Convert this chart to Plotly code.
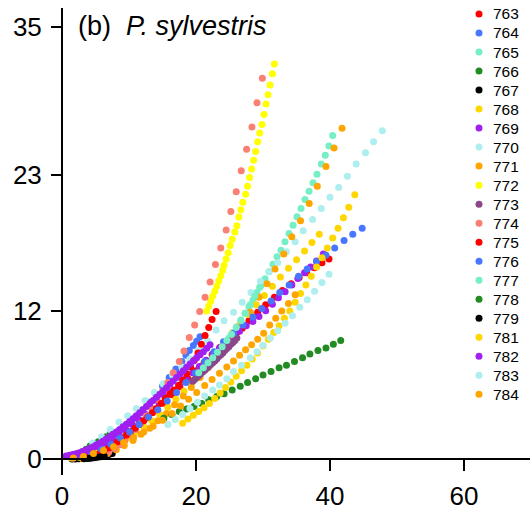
import plotly.graph_objects as go

series_names = ["763", "764", "765", "766", "767", "768", "769", "770", "771", "772", "773",
                "774", "775", "776", "777", "778", "779", "781", "782", "783", "784"]
colors = ["#FF0000", "#4876FF", "#76EEC6", "#228B22", "#000000", "#FFD700", "#A020F0",
          "#AEEEEE", "#FFA500", "#FFFF00", "#8B4789", "#FA8072", "#FF0000", "#4876FF",
          "#76EEC6", "#228B22", "#000000", "#FFD700", "#A020F0", "#AEEEEE", "#FFA500"]

x_ticks = [0, 20, 40, 60]
y_ticks = [0, 12, 23, 35]

x763 = [2.0, 3.2, 4.4, 5.6, 6.8, 8.0, 9.2, 10.4, 11.6, 12.8, 14.0, 15.2, 16.4, 17.6, 18.8, 20.0, 21.2,
        22.4, 23.6, 24.8, 26.0, 26.9, 27.9, 29.2, 30.4, 31.7, 32.9, 34.2, 35.4, 36.5, 37.7, 38.8, 39.85]
y763 = [0.1, 0.2, 0.35, 0.6, 0.9, 1.3, 1.75, 2.25, 2.8, 3.35, 3.95, 4.55, 5.2, 5.85, 6.5, 7.15, 7.8,
        8.45, 9.05, 9.65, 10.2, 10.6, 11.2, 11.9, 12.5, 13.1, 13.65, 14.2, 14.7, 15.1, 15.5, 15.9, 16.2]

x764 = [1.0, 2.0, 3.0, 4.0, 5.0, 6.0, 7.0, 8.0, 9.0, 10.0, 11.0, 12.0, 13.0, 14.0, 15.0, 16.0, 17.0,
        17.9, 18.5, 19.0, 19.6, 20.1, 20.6]
y764 = [0.2, 0.3, 0.45, 0.65, 0.9, 1.2, 1.55, 1.95, 2.4, 2.9, 3.45, 4.0, 4.6, 5.25, 5.9, 6.6, 7.3,
        7.9, 8.4, 8.8, 9.2, 9.55, 9.9]

x765 = [21.9, 22.5, 23.1, 23.7, 24.3, 24.9, 25.5, 26.07, 26.7, 27.31, 27.9, 28.5, 29.1, 29.7, 30.3,
        30.9, 31.49, 32.09, 32.69, 33.28, 33.88, 34.48, 35.07, 35.67, 36.27, 36.87, 37.46, 38.06,
        38.7, 39.3, 39.85, 40.4]
y765 = [7.7, 8.1, 8.5, 8.9, 9.35, 9.8, 10.25, 10.72, 11.26, 11.8, 12.34, 12.88, 13.5, 14.04, 14.6,
        15.17, 15.78, 16.38, 16.91, 17.6, 18.26, 18.94, 19.62, 20.29, 21.02, 21.69, 22.37, 23.07,
        23.9, 24.6, 25.35, 26.2]

x766 = [1.2, 1.8, 2.4, 3.0, 3.6, 4.2, 4.8, 5.4, 6.0, 6.6, 7.2]
y766 = [0.25, 0.35, 0.45, 0.6, 0.8, 1.05, 1.2, 1.4, 1.6, 1.8, 2.05]

x767 = [1.5, 2.0, 2.5, 3.0, 3.5, 4.0, 4.5, 5.0, 5.5, 6.0, 6.5, 7.0, 7.5]
y767 = [0.0, 0.01, 0.02, 0.04, 0.06, 0.09, 0.12, 0.16, 0.2, 0.25, 0.3, 0.37, 0.45]

x768 = [1.4, 2.6, 3.8, 5.0, 6.2, 7.4, 8.6, 9.8, 11.0, 12.2, 13.4, 14.6, 15.8, 17.0, 18.2, 19.4, 20.6,
        21.8, 23.0, 24.2, 25.4, 26.6, 27.8, 29.0, 30.2, 31.4, 32.6, 33.8, 35.0, 36.2, 37.3, 38.4]
y768 = [0.08, 0.15, 0.3, 0.5, 0.75, 1.0, 1.35, 1.75, 2.2, 2.65, 3.1, 3.6, 4.2, 4.85, 5.5, 6.2, 7.0,
        7.8, 8.6, 9.4, 10.2, 10.95, 11.7, 12.5, 13.25, 14.0, 14.75, 15.45, 16.15, 16.85, 17.55, 18.2]

x769 = [1.5, 2.5, 3.5, 4.5, 5.5, 6.5, 7.5, 8.5, 9.5, 10.5, 11.5, 12.5, 13.5, 14.5, 15.5, 16.5,
        17.5, 18.5, 19.5, 20.5, 21.5, 22.5, 23.5, 24.5, 25.5, 26.5, 27.5, 28.5, 29.4, 30.4, 31.4,
        32.3, 33.3, 34.3, 35.2, 36.2, 37.1, 38.0, 39.0]
y769 = [0.22, 0.35, 0.5, 0.75, 1.0, 1.3, 1.65, 2.0, 2.4, 2.8, 3.2, 3.6, 4.05, 4.5, 5.0, 5.5,
        6.0, 6.5, 7.0, 7.5, 8.0, 8.5, 9.0, 9.45, 9.9, 10.35, 10.8, 11.15, 11.54, 12.02, 12.53,
        13.07, 13.56, 14.1, 14.63, 15.09, 15.55, 16.05, 16.6]

x770 = [4.6, 5.9, 7.2, 8.5, 9.8, 11.1, 12.4, 13.8, 15.1, 16.5, 17.9, 19.1, 20.3, 21.7, 23.0, 24.2,
        25.6, 26.9, 28.2, 29.6, 30.9, 32.2, 33.5, 34.8, 36.0, 37.4, 38.7, 40.0, 41.3, 42.6, 43.9,
        45.3, 46.5, 47.8]
y770 = [1.3, 1.8, 2.4, 3.0, 3.5, 4.1, 4.75, 5.4, 6.1, 6.8, 7.45, 8.1, 8.8, 9.6, 10.45, 11.2,
        11.9, 12.7, 13.5, 14.4, 15.2, 15.9, 16.8, 17.6, 18.5, 19.4, 20.3, 21.2, 22.0, 22.9, 23.9,
        24.8, 25.7, 26.6]

x771 = [3.1, 4.3, 5.6, 6.8, 8.1, 9.3, 10.6, 11.8, 13.1, 14.3, 15.6, 16.8, 18.1, 19.3, 20.6, 21.8,
        23.1, 24.3, 25.6, 26.8, 28.1, 29.4, 30.6, 31.8, 33.1, 34.3, 35.6, 36.9, 38.1, 39.4, 40.6, 41.8]
y771 = [0.03, 0.1, 0.25, 0.45, 0.75, 1.1, 1.5, 2.0, 2.5, 3.1, 3.7, 4.4, 5.1, 5.8, 6.6, 7.4,
        8.2, 9.1, 10.0, 10.9, 11.9, 13.1, 14.2, 15.4, 16.6, 18.0, 19.3, 20.7, 22.1, 23.7, 25.2, 26.8]

x772 = [21.6, 21.9, 22.2, 22.5, 22.8, 23.1, 23.4, 23.7, 24.0, 24.2, 24.5, 24.8, 25.1, 25.4, 25.8,
        26.1, 26.4, 26.7, 27.0, 27.4, 27.7, 28.0, 28.3, 28.6, 28.9, 29.2, 29.5, 29.85, 30.15, 30.45,
        30.75, 31.05, 31.4, 31.7]
y772 = [12.0, 12.4, 12.8, 13.2, 13.6, 14.0, 14.45, 14.85, 15.3, 15.7, 16.2, 16.7, 17.3, 17.8, 18.4,
        18.9, 19.6, 20.2, 20.8, 21.45, 22.1, 22.8, 23.5, 24.2, 24.9, 25.7, 26.4, 27.1, 27.9, 28.75,
        29.5, 30.3, 31.2, 32.0]

x773 = [19.5, 19.8, 20.1, 20.4, 20.7, 21.0, 21.3, 21.6, 21.9, 22.2, 22.5, 22.8, 23.1, 23.4, 23.7,
        24.0, 24.3, 24.6, 24.9, 25.2, 25.5, 25.8, 26.1]
y773 = [6.3, 6.45, 6.6, 6.75, 6.9, 7.05, 7.2, 7.35, 7.5, 7.65, 7.8, 7.95, 8.1, 8.3, 8.45,
        8.6, 8.8, 8.95, 9.1, 9.3, 9.45, 9.6, 9.8]

x774 = [4.6, 5.4, 6.2, 7.0, 7.8, 8.6, 9.4, 10.2, 11.0, 11.8, 12.6, 13.4, 14.2, 15.0, 15.8, 16.6,
        17.5, 18.2, 19.0, 19.8, 20.55, 21.35, 22.1, 22.9, 23.7, 24.5, 25.2, 26.0, 26.75, 27.55,
        28.35, 29.1, 29.9]
y774 = [0.12, 0.25, 0.4, 0.6, 0.85, 1.15, 1.5, 1.9, 2.4, 2.9, 3.5, 4.1, 4.8, 5.5, 6.2, 7.0,
        7.9, 8.75, 9.85, 10.85, 11.95, 13.1, 14.35, 15.75, 17.1, 18.55, 20.05, 21.65, 23.35, 25.1,
        26.9, 28.85, 30.85]

x775 = [3.7, 4.4, 5.0, 5.7, 6.3, 7.0, 7.6, 8.3, 8.9, 9.6, 10.2, 10.9, 11.5, 12.2, 12.8, 13.5,
        14.1, 14.8, 15.4, 16.1, 16.7, 17.4, 18.0, 18.6, 19.2, 19.75, 20.3, 20.8, 21.35, 21.9, 22.4, 23.0]
y775 = [0.1, 0.2, 0.35, 0.5, 0.7, 0.9, 1.15, 1.4, 1.65, 1.95, 2.2, 2.5, 2.8, 3.1, 3.4, 3.75,
        4.1, 4.5, 4.9, 5.3, 5.6, 5.95, 6.4, 6.9, 7.45, 8.0, 8.6, 9.3, 10.0, 10.65, 11.3, 11.96]

x776 = [1.7, 3.1, 4.5, 5.9, 7.3, 8.7, 10.1, 11.5, 12.9, 14.3, 15.7, 17.1, 18.5, 19.9, 21.3, 22.7,
        24.1, 25.6, 27.0, 28.5, 29.8, 31.2, 32.5, 33.9, 35.3, 36.6, 38.0, 39.4, 40.7, 42.1, 43.4, 44.8]
y776 = [0.08, 0.2, 0.45, 0.8, 1.2, 1.7, 2.2, 2.8, 3.4, 4.0, 4.7, 5.4, 6.2, 7.0, 7.9, 8.7,
        9.5, 10.2, 10.85, 11.5, 12.2, 12.8, 13.5, 14.1, 14.8, 15.4, 16.0, 16.5, 17.1, 17.7, 18.2, 18.7]

x777 = [20.4, 21.1, 21.8, 22.5, 23.2, 23.9, 24.6, 25.3, 26.0, 26.7, 27.4, 28.1, 28.8, 29.5]
y777 = [7.0, 7.4, 7.8, 8.2, 8.65, 9.1, 9.6, 10.1, 10.65, 11.2, 11.8, 12.5, 13.2, 13.9]

x778 = [15.2, 16.4, 17.5, 18.6, 19.7, 20.85, 21.9, 23.1, 24.2, 25.4, 26.6, 27.7, 28.9, 30.0, 31.2,
        32.4, 33.5, 34.7, 35.9, 37.0, 38.2, 39.4, 40.5, 41.6]
y778 = [3.3, 3.6, 3.85, 4.05, 4.25, 4.5, 4.8, 5.07, 5.3, 5.6, 5.9, 6.2, 6.5, 6.8, 7.1,
        7.4, 7.6, 7.9, 8.2, 8.5, 8.8, 9.0, 9.3, 9.6]

x779 = [3.3, 3.8, 4.3, 4.8, 5.3, 5.8, 6.3]
y779 = [0.02, 0.04, 0.07, 0.1, 0.14, 0.18, 0.23]

x781 = [18.0, 18.8, 19.6, 20.4, 21.2, 22.0, 22.8, 23.6, 24.4, 25.2, 26.0, 26.8, 27.6, 28.4, 29.2,
        30.0, 30.8, 31.6, 32.4, 33.2, 34.0, 34.8, 35.6, 36.4, 37.2, 38.0, 38.8, 39.6, 40.4, 41.2,
        42.0, 42.8, 43.7]
y781 = [2.9, 3.25, 3.55, 3.85, 4.15, 4.5, 4.9, 5.35, 5.8, 6.25, 6.7, 7.15, 7.6, 8.1, 8.6,
        9.15, 9.7, 10.25, 10.8, 11.4, 12.0, 12.7, 13.4, 14.1, 14.8, 15.55, 16.3, 17.1, 17.9, 18.7,
        19.55, 20.4, 21.4]

x782 = [0.6, 1.1, 1.6, 2.1, 2.6, 3.1, 3.6, 4.1, 4.6, 5.1, 5.6, 6.1, 6.6, 7.1, 7.6, 8.1, 8.6, 9.1,
        9.6, 10.1, 10.6, 11.1, 11.6, 12.1, 12.6, 13.1, 13.6, 14.1, 14.6, 15.1, 15.6, 16.1, 16.6,
        17.1, 17.6, 18.1, 18.6, 19.1, 19.6, 20.1, 20.6, 21.1, 21.6, 22.1]
y782 = [0.25, 0.3, 0.36, 0.43, 0.52, 0.62, 0.73, 0.85, 0.98, 1.13, 1.28, 1.45, 1.62, 1.8, 2.0,
        2.2, 2.4, 2.62, 2.83, 3.05, 3.27, 3.5, 3.75, 4.0, 4.25, 4.5, 4.75, 5.0, 5.25, 5.5, 5.78,
        6.05, 6.33, 6.6, 6.88, 7.15, 7.43, 7.7, 7.95, 8.2, 8.45, 8.7, 8.98, 9.25]

x783 = [15.8, 16.9, 18.0, 19.1, 20.2, 21.3, 22.5, 23.5, 24.6, 25.6, 26.8, 28.1, 29.1, 30.0, 31.1,
        32.2, 33.3, 34.4, 35.5, 36.6, 37.7, 38.8, 39.85]
y783 = [2.8, 3.2, 3.6, 4.1, 4.6, 5.1, 5.6, 6.0, 6.5, 7.1, 7.6, 8.2, 8.7, 9.2, 9.8,
        10.4, 11.0, 11.6, 12.3, 12.9, 13.6, 14.3, 14.96]

x784 = [1.7, 3.2, 4.7, 6.2, 7.7, 9.2, 10.7, 12.2, 13.6, 15.0, 16.4, 17.7, 18.9, 20.1, 21.3, 22.4,
        23.5, 24.6, 25.6, 26.5, 27.4, 28.3, 29.2, 30.1, 31.0, 31.9, 32.8, 33.8, 34.8]
y784 = [0.08, 0.2, 0.45, 0.7, 1.0, 1.35, 1.75, 2.2, 2.65, 3.15, 3.7, 4.3, 4.85, 5.4, 5.95, 6.45,
        6.95, 7.45, 7.95, 8.4, 8.85, 9.25, 9.7, 10.2, 10.85, 11.4, 12.0, 12.6, 13.3]

xs = [x763, x764, x765, x766, x767, x768, x769, x770, x771, x772, x773, x774, x775, x776, x777,
      x778, x779, x781, x782, x783, x784]
ys = [y763, y764, y765, y766, y767, y768, y769, y770, y771, y772, y773, y774, y775, y776, y777,
      y778, y779, y781, y782, y783, y784]

# ---- layout geometry (pixels) ----
W, H = 530, 511
ML, MR, MT, MB = 43, 0, 8, 34
PW, PH = W - ML - MR, H - MT - MB
FONT = "Liberation Sans, Arial, Helvetica, sans-serif"

fig = go.Figure()
for name, col, xv, yv in zip(series_names, colors, xs, ys):
    fig.add_trace(go.Scatter(
        x=xv, y=yv, mode="markers", name=name, showlegend=False,
        marker=dict(color=col, size=7, line=dict(width=0)),
        cliponaxis=False, hoverinfo="skip"))

# manual legend (text + dots) to match the reference spacing
annotations = []
shapes = []
row0, rowstep = 14.0, 19.1
for i, (name, col) in enumerate(zip(series_names, colors)):
    py = row0 + i * rowstep
    yp = (MT + PH - py) / PH
    annotations.append(dict(
        xref="paper", yref="paper", x=(491 - ML) / PW, y=yp, xanchor="left", yanchor="middle",
        text=name, showarrow=False, font=dict(family=FONT, size=15.5, color="black")))
    shapes.append(dict(
        type="circle", xref="paper", yref="paper", xsizemode="pixel", ysizemode="pixel",
        xanchor=(479 - ML) / PW, yanchor=yp, x0=-3.5, x1=3.5, y0=-3.5, y1=3.5,
        fillcolor=col, line=dict(width=0)))

annotations.append(dict(
    xref="paper", yref="paper", x=(76 - ML) / PW, y=(MT + PH - 26) / PH, xanchor="left",
    yanchor="middle", text="(b)", showarrow=False, font=dict(family=FONT, size=27, color="black")))
annotations.append(dict(
    xref="paper", yref="paper", x=(124 - ML) / PW, y=(MT + PH - 26) / PH, xanchor="left",
    yanchor="middle", text="<i>P. sylvestris</i>", showarrow=False,
    font=dict(family=FONT, size=27, color="black")))

x0px, y0px = 62, 461          # pixel position of data origin
xscale, yscale = 6.7, 12.4    # pixels per data unit
xr = [-(x0px - ML) / xscale, (W - MR - x0px) / xscale]
yr = [-(MT + PH - y0px) / yscale, (y0px - MT) / yscale]

fig.update_layout(
    width=W, height=H, autosize=False,
    margin=dict(l=ML, r=MR, t=MT, b=MB, pad=0),
    paper_bgcolor="white", plot_bgcolor="white",
    font=dict(family=FONT, color="black"),
    annotations=annotations, shapes=shapes,
    xaxis=dict(range=xr, tickvals=x_ticks, ticktext=[str(v) for v in x_ticks],
               showgrid=False, zeroline=False, showline=True, linecolor="black", linewidth=2,
               ticks="outside", ticklen=11, tickwidth=2, tickcolor="black",
               tickfont=dict(size=26, family=FONT, color="black"),
               anchor="free", position=(MT + PH - y0px) / PH, ticklabelstandoff=3),
    yaxis=dict(range=yr, tickvals=y_ticks, ticktext=[str(v) for v in y_ticks],
               showgrid=False, zeroline=False, showline=True, linecolor="black", linewidth=2,
               ticks="outside", ticklen=10, tickwidth=2, tickcolor="black",
               tickfont=dict(size=26, family=FONT, color="black"),
               anchor="free", position=(x0px - ML) / PW, ticklabelstandoff=4),
)

fig.write_html("out.html")
